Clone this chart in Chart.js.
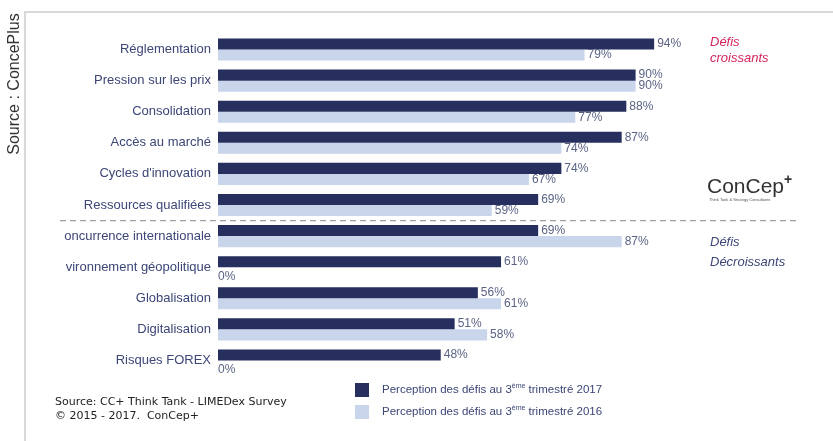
<!DOCTYPE html>
<html><head><meta charset="utf-8">
<script src="https://cdn.jsdelivr.net/npm/chart.js@4"></script>
<style>html,body{margin:0;padding:0;background:#fff}#wrap{width:833px;height:441px;position:relative}</style>
</head><body><div id="wrap"><canvas id="c" width="833" height="441"></canvas></div>
<script>
const categories = ["Réglementation","Pression sur les prix","Consolidation","Accès au marché","Cycles d'innovation","Ressources qualifiées","oncurrence internationale","vironnement géopolitique","Globalisation","Digitalisation","Risques FOREX"];
const values2017 = [94,90,88,87,74,69,69,61,56,51,48];
const values2016 = [79,90,77,74,67,59,87,0,61,58,0];
const seriesLabels = ["Perception des défis au 3ème trimestré 2017","Perception des défis au 3ème trimestré 2016"];
const colorDark = "#262f5e", colorLight = "#c9d5ea";
const textColor = "#3c4677";

const decor = {
  id:'decor',
  beforeDraw(chart){
    const ctx = chart.ctx;
    ctx.save();
    ctx.fillStyle='#fff'; ctx.fillRect(0,0,chart.width,chart.height);
    ctx.strokeStyle='#d9d9d9'; ctx.lineWidth=2;
    ctx.beginPath(); ctx.moveTo(25,441); ctx.lineTo(25,12); ctx.lineTo(833,12); ctx.stroke();
    ctx.translate(15,84); ctx.rotate(-Math.PI/2);
    ctx.fillStyle='#333'; ctx.font='16px "Liberation Sans", Arial, sans-serif';
    ctx.textAlign='center'; ctx.textBaseline='middle';
    ctx.fillText('Source : ConcePlus',0,0);
    ctx.restore();
  },
  afterDatasetsDraw(chart){
    const ctx = chart.ctx;
    ctx.save();
    ctx.font='12px "Liberation Sans", Arial, sans-serif';
    ctx.fillStyle='#5b6385'; ctx.textBaseline='middle'; ctx.textAlign='left';
    chart.data.datasets.forEach((ds,di)=>{
      chart.getDatasetMeta(di).data.forEach((bar,i)=>{
        const v = ds.data[i];
        if (v===0) ctx.fillText(v+'%', bar.x, bar.y+4);
        else ctx.fillText(v+'%', bar.x+3, bar.y);
      });
    });
    const y = chart.scales.y;
    const sepY = (y.getPixelForValue(5)+y.getPixelForValue(6))/2;
    ctx.strokeStyle='#a0a0a0'; ctx.lineWidth=1.2; ctx.setLineDash([6,4]);
    ctx.beginPath(); ctx.moveTo(60,sepY); ctx.lineTo(800,sepY); ctx.stroke();
    ctx.setLineDash([]);
    ctx.font='italic 13px "Liberation Sans", Arial, sans-serif';
    ctx.fillStyle='#d4245a';
    ctx.fillText('Défis',710,42); ctx.fillText('croissants',710,58);
    ctx.fillStyle=textColor;
    ctx.fillText('Défis',710,242); ctx.fillText('Décroissants',710,262);
    // logo
    ctx.fillStyle='#333'; ctx.font='21px "Liberation Sans", Arial, sans-serif';
    ctx.fillText('ConCep',707,187);
    const lw = ctx.measureText('ConCep').width;
    ctx.font='bold 14px "Liberation Sans", Arial, sans-serif';
    ctx.fillText('+',707+lw,180);
    ctx.font='4px "Liberation Sans", Arial, sans-serif'; ctx.fillStyle='#555';
    ctx.fillText('Think Tank & Strategy Consultants',709,200);
    const cols=[colorDark,colorLight];
    seriesLabels.forEach((lab,k)=>{
      const ly = 390 + k*22;
      ctx.fillStyle=cols[k]; ctx.fillRect(355,ly-7,14,14);
      ctx.fillStyle=textColor; ctx.font='11.5px "Liberation Sans", Arial, sans-serif';
      const parts = lab.split('ème');
      let x=382;
      ctx.fillText(parts[0],x,ly); x+=ctx.measureText(parts[0]).width;
      ctx.font='7px "Liberation Sans", Arial, sans-serif';
      ctx.fillText('ème',x,ly-4); x+=ctx.measureText('ème').width;
      ctx.font='11.5px "Liberation Sans", Arial, sans-serif';
      ctx.fillText(parts[1],x,ly);
    });
    ctx.fillStyle='#222'; ctx.font='11px "DejaVu Sans", sans-serif';
    ctx.fillText('Source: CC+ Think Tank - LIMEDex Survey',55,402);
    ctx.fillText('© 2015 - 2017.  ConCep+',55,416);
    ctx.restore();
  }
};

new Chart(document.getElementById('c'),{
  type:'bar',
  data:{labels:categories,datasets:[
    {label:seriesLabels[0],data:values2017,backgroundColor:colorDark,barPercentage:1,categoryPercentage:0.71},
    {label:seriesLabels[1],data:values2016,backgroundColor:colorLight,barPercentage:1,categoryPercentage:0.71}
  ]},
  options:{
    indexAxis:'y',responsive:false,animation:false,
    layout:{padding:{left:0,right:151,top:34,bottom:65}},
    plugins:{legend:{display:false},tooltip:{enabled:false}},
    scales:{
      x:{display:false,min:0,max:100},
      y:{afterFit(s){s.width=218;},grid:{display:false,drawTicks:false},border:{display:false},
         ticks:{padding:7,color:textColor,font:{family:'"Liberation Sans", Arial, sans-serif',size:13}}}
    }
  },
  plugins:[decor]
});
</script></body></html>
